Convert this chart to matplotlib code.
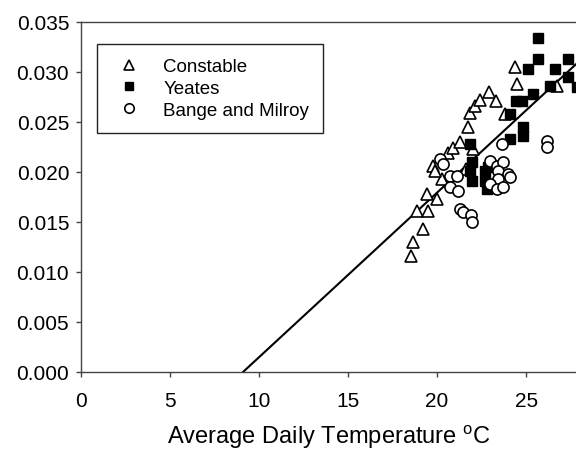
import matplotlib
matplotlib.use("Agg")
import matplotlib.pyplot as plt

plt.rcParams['font.family'] = ['Liberation Sans', 'DejaVu Sans']
plt.rcParams['mathtext.fontset'] = 'custom'
plt.rcParams['mathtext.rm'] = 'Liberation Sans'

# datos
constable_t = [18.54, 18.65, 19.21, 18.88, 19.49, 19.44, 20.00, 20.28, 19.78, 19.89,
               20.62, 20.90, 21.29, 22.02, 21.74, 21.85, 22.13, 22.42, 22.92, 23.31,
               23.82, 24.38, 24.49, 26.74, 21.63]
constable_k = [0.0116, 0.0130, 0.0143, 0.0161, 0.0161, 0.0178, 0.0173, 0.0193, 0.0206, 0.0201,
               0.0219, 0.0224, 0.0230, 0.0223, 0.0245, 0.0259, 0.0266, 0.0272, 0.0280, 0.0271,
               0.0258, 0.0305, 0.0288, 0.0286, 0.0203]

yeates_t = [25.67, 25.67, 25.11, 26.63, 27.36, 27.36, 26.35, 25.39, 24.44, 24.78,
            24.10, 24.83, 24.83, 24.10, 21.85, 21.97, 21.85, 21.97, 22.70, 22.70,
            22.81, 22.87, 27.85]
yeates_k = [0.0334, 0.0313, 0.0303, 0.0303, 0.0313, 0.0295, 0.0286, 0.0278, 0.0271, 0.0271,
            0.0258, 0.0245, 0.0236, 0.0233, 0.0228, 0.0210, 0.0201, 0.0191, 0.0201, 0.0191,
            0.0183, 0.0205, 0.0285]

bange_t = [20.17, 20.34, 20.73, 21.12, 20.73, 21.18, 21.29, 21.46, 21.91, 21.97,
           22.98, 23.37, 23.71, 23.43, 23.99, 24.10, 23.43, 22.98, 23.37, 23.71,
           23.65, 26.18, 26.18]
bange_k = [0.0213, 0.0208, 0.0196, 0.0196, 0.0185, 0.0181, 0.0163, 0.0160, 0.0157, 0.0150,
           0.0211, 0.0206, 0.0210, 0.0201, 0.0198, 0.0195, 0.0193, 0.0188, 0.0183, 0.0185,
           0.0228, 0.0231, 0.0225]

# recta ajustada
t_base = 9.1
pendiente = 0.001646
recta_t = [9.1, 28.0]

y_ticks = [0.000, 0.005, 0.010, 0.015, 0.020, 0.025, 0.030, 0.035]
x_ticks = [0, 5, 10, 15, 20, 25]

fig = plt.figure(figsize=(5.76, 4.56), dpi=100)
ax = fig.add_axes([81 / 576, 83 / 456, 495 / 576, 350 / 456])

recta_k = [pendiente * (t - t_base) for t in recta_t]
ax.plot(recta_t, recta_k, color='black', lw=1.5, zorder=2)

ax.plot(constable_t, constable_k, ls='none', marker='^', ms=8.5, mfc='white',
        mec='black', mew=1.2, label='Constable', zorder=3)
ax.plot(yeates_t, yeates_k, ls='none', marker='s', ms=7.5, mfc='black',
        mec='black', mew=1.0, label='Yeates', zorder=3)
ax.plot(bange_t, bange_k, ls='none', marker='o', ms=8, mfc='white',
        mec='black', mew=1.2, label='Bange and Milroy', zorder=4)

ax.set_xlim(0, 27.8)
ax.set_ylim(0, 0.035)
ax.set_xticks(x_ticks)
ax.set_yticks(y_ticks)
ax.set_yticklabels([f'{v:.3f}' for v in y_ticks])

for lado in ['left', 'bottom', 'top']:
    ax.spines[lado].set_color('#444444')
    ax.spines[lado].set_linewidth(1.0)
ax.spines['right'].set_visible(False)

ax.tick_params(axis='both', direction='out', length=3.5, width=1.0,
               color='#444444', labelsize=15)
ax.tick_params(axis='x', pad=10)
ax.tick_params(axis='y', pad=5)

ax.set_xlabel(r'Average Daily Temperature $^{\mathrm{o}}$C', fontsize=17, labelpad=9)

leg = ax.legend(loc='upper left', bbox_to_anchor=(0.032, 0.937), borderaxespad=0,
                fontsize=13.5, markerscale=0.85, fancybox=False, edgecolor='#222222',
                framealpha=1, borderpad=0.75, handlelength=1.9, handletextpad=0.9,
                labelspacing=0.25)
leg.get_frame().set_linewidth(1.0)

plt.savefig('out.png', dpi=100)
